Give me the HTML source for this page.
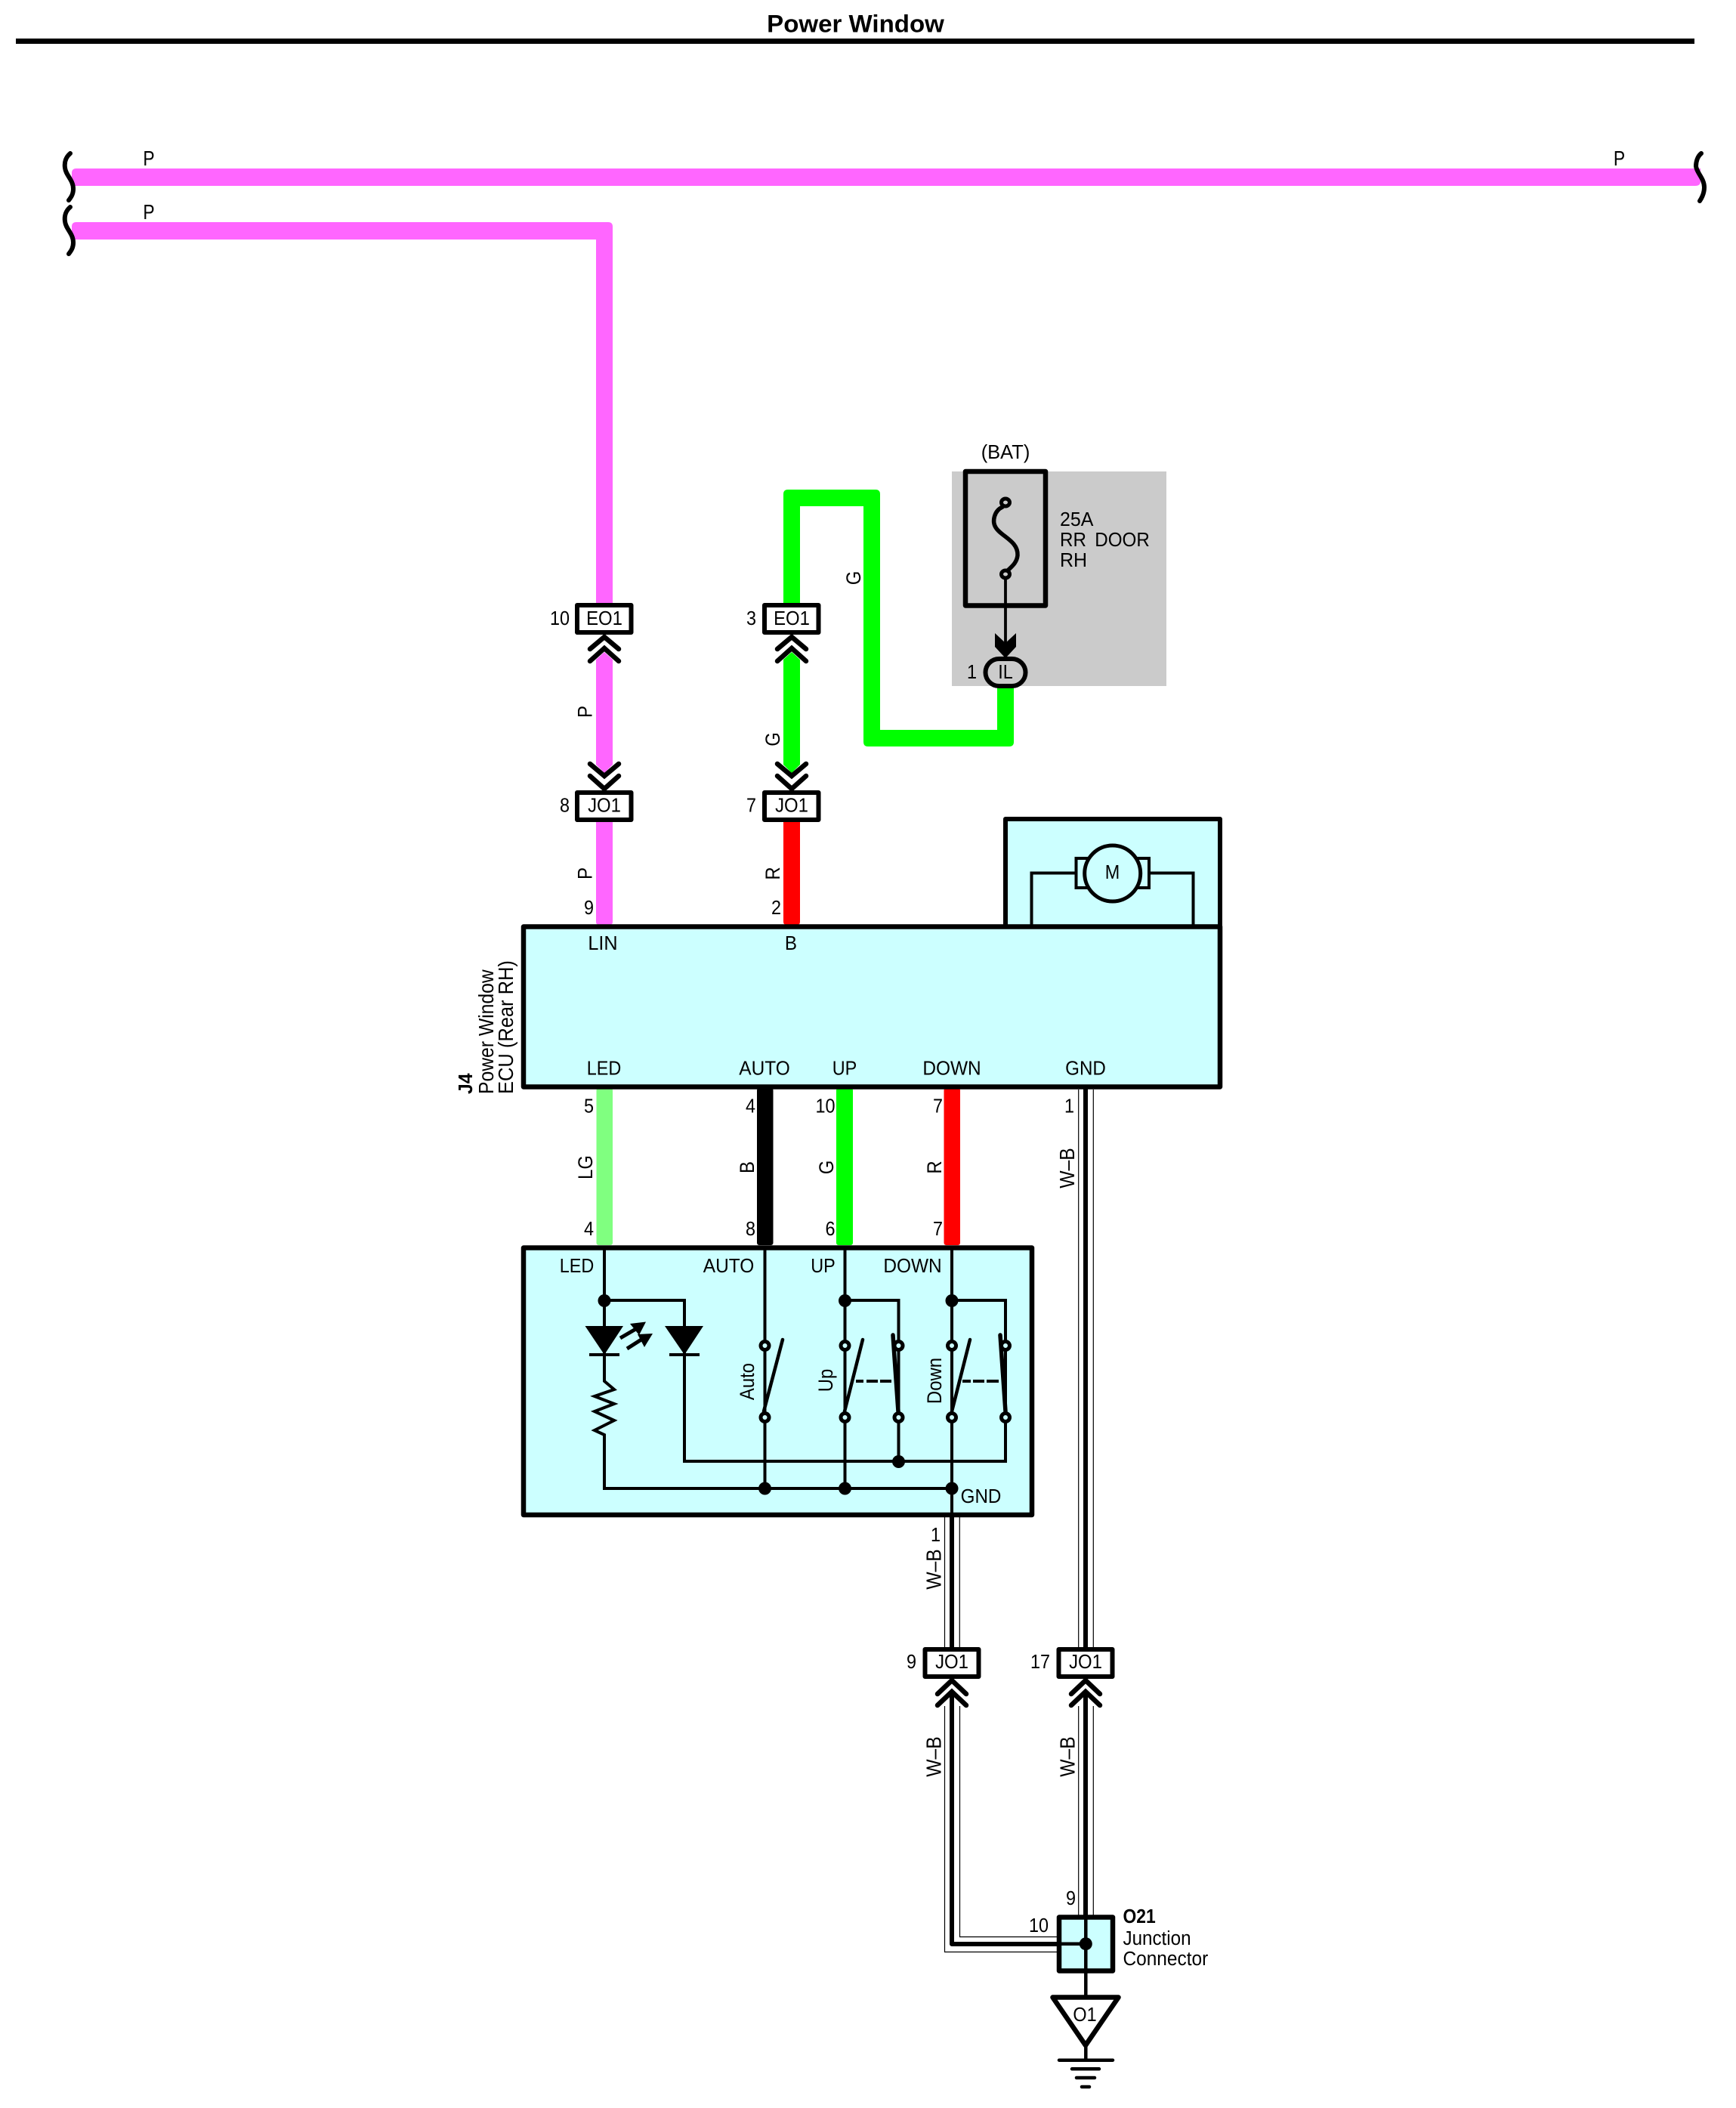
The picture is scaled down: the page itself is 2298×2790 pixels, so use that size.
<!DOCTYPE html>
<html>
<head>
<meta charset="utf-8">
<title>Power Window</title>
<style>
html,body{margin:0;padding:0;background:#fff}
svg{display:block}
text{font-family:"Liberation Sans",Arial,sans-serif;font-size:26px;fill:#000}
.m{text-anchor:middle}
.e{text-anchor:end}
.b{font-weight:bold}
</style>
</head>
<body>
<svg xmlns="http://www.w3.org/2000/svg" width="2298" height="2790" viewBox="0 0 2298 2790">
<rect width="2298" height="2790" fill="#fff"/>

<!-- Title -->
<text class="m b" style="font-size:32.5px" transform="translate(1132.5,42.5) scale(1.017 1)">Power Window</text>
<rect x="21" y="51" width="2222" height="7" fill="#000"/>

<!-- Pink wires -->
<path d="M95,229 Q95,223 101,223 H2251 V240 Q2251,246 2244,246 H95 Z" fill="#ff66ff"/>
<path d="M95,300 Q95,294 101,294 H805 Q811,294 811,300 V798 H789 V317 H95 Z" fill="#ff66ff"/>
<path d="M789,873 L800,863 L811,873 V1012 L800,1023 L789,1012 Z" fill="#ff66ff"/>
<path d="M789,1087 H811 V1220 Q811,1224 807,1224 H793 Q789,1224 789,1220 Z" fill="#ff66ff"/>

<!-- Green wires -->
<path d="M1037,798 V654 Q1037,648 1043,648 H1159 Q1165,648 1165,654 V966 H1320 V908 H1342 V982 Q1342,988 1336,988 H1149 Q1143,988 1143,982 V670 H1059 V798 Z" fill="#00ff00"/>
<path d="M1037,873 L1048,863 L1059,873 V1012 L1048,1023 L1037,1012 Z" fill="#00ff00"/>
<path d="M1037,1087 H1059 V1220 Q1059,1224 1055,1224 H1041 Q1037,1224 1037,1220 Z" fill="#ff0000"/>

<!-- Wires between ECU and switch -->
<rect x="789.5" y="1440" width="21.5" height="208" rx="3" fill="#80ff80"/>
<rect x="1002" y="1440" width="21.5" height="208" rx="3" fill="#000"/>
<rect x="1107" y="1440" width="22" height="208" rx="3" fill="#00ff00"/>
<rect x="1249.5" y="1440" width="21.5" height="208" rx="3" fill="#ff0000"/>

<!-- Fuse block -->
<rect x="1260" y="624" width="284" height="284" fill="#cbcbcb"/>
<rect x="1278" y="624" width="106" height="177.5" fill="none" stroke="#000" stroke-width="6.5" stroke-linejoin="round"/>
<path d="M1327,671 C1316,676 1313,690 1318,698 C1325,710 1348,716 1347,735 C1346,745 1339,750 1334,755" fill="none" stroke="#000" stroke-width="5.5" stroke-linecap="round"/>
<ellipse cx="1331" cy="665" rx="5.5" ry="5" fill="#cbcbcb" stroke="#000" stroke-width="5"/>
<ellipse cx="1331" cy="760" rx="5.5" ry="5" fill="#cbcbcb" stroke="#000" stroke-width="5"/>
<path d="M1331,765 V860" stroke="#000" stroke-width="3.8" fill="none"/>
<polygon points="1317,838 1331,851 1345,838 1345,856 1333,869 1329,869 1317,856" fill="#000"/>
<rect x="1304.5" y="872" width="53" height="36" rx="18" fill="#cbcbcb" stroke="#000" stroke-width="6"/>
<text class="m" transform="translate(1331,898) scale(.9 1)">IL</text>
<text class="e" transform="translate(1293,898) scale(.9 1)">1</text>
<text class="m" transform="translate(1331,607) scale(.98 1)">(BAT)</text>
<text transform="translate(1403,696) scale(.96 1)">25A</text>
<text transform="translate(1403,723) scale(.93 1)" style="word-spacing:5px">RR DOOR</text>
<text transform="translate(1403,750) scale(.96 1)">RH</text>

<!-- Motor box -->
<rect x="1331" y="1084" width="284" height="143" fill="#ccffff" stroke="#000" stroke-width="6" stroke-linejoin="round"/>
<path d="M1365.5,1226 V1155.5 H1424 M1579.5,1226 V1155.5 H1520" fill="none" stroke="#000" stroke-width="4"/>
<rect x="1424.5" y="1136" width="96.5" height="39" fill="#ccffff" stroke="#000" stroke-width="4"/>
<circle cx="1472.7" cy="1156" r="37" fill="#ccffff" stroke="#000" stroke-width="5"/>
<text class="m" transform="translate(1472.5,1163) scale(.9 1)">M</text>

<!-- ECU -->
<rect x="693" y="1226.5" width="922" height="212" fill="#ccffff" stroke="#000" stroke-width="6.5" stroke-linejoin="round"/>
<text class="m" transform="translate(798,1257) scale(.97 1)">LIN</text>
<text class="m" transform="translate(1047,1257) scale(.93 1)">B</text>
<text class="m" transform="translate(799.5,1422.5) scale(.9 1)">LED</text>
<text class="m" transform="translate(1012,1422.5) scale(.94 1)">AUTO</text>
<text class="m" transform="translate(1118,1422.5) scale(.9 1)">UP</text>
<text class="m" transform="translate(1260,1422.5) scale(.94 1)">DOWN</text>
<text class="m" transform="translate(1437,1422.5) scale(.93 1)">GND</text>
<text class="b" transform="translate(625,1448) rotate(-90) scale(.95 1)">J4</text>
<text transform="translate(653,1448) rotate(-90) scale(.95 1.08)">Power Window</text>
<text transform="translate(679,1448) rotate(-90) scale(.98 1.08)">ECU (Rear RH)</text>

<!-- Switch -->
<rect x="693" y="1651.5" width="673" height="353.5" fill="#ccffff" stroke="#000" stroke-width="6.5" stroke-linejoin="round"/>
<text class="m" transform="translate(763.5,1684) scale(.9 1)">LED</text>
<text class="m" transform="translate(964.5,1684) scale(.94 1)">AUTO</text>
<text class="m" transform="translate(1089.5,1684) scale(.9 1)">UP</text>
<text class="m" transform="translate(1208,1684) scale(.94 1)">DOWN</text>
<text class="m" transform="translate(1298.5,1989) scale(.93 1)">GND</text>

<g fill="none" stroke="#000" stroke-width="4">
  <path d="M800,1651 V1828 L813,1839 L787,1848 L813,1858 L787,1868 L813,1880 L787,1893 L800,1899 V1970 H1260"/>
  <path d="M800,1721 H906 V1934 H1331 V1721 H1260"/>
  <path d="M1118.5,1721 H1189.5 V1934"/>
  <path d="M1012.5,1651 V1970 M1118.5,1651 V1970 M1260,1651 V2008"/>
  <path d="M780,1793 H820 M886,1793 H926"/>
</g>
<!-- diodes -->
<polygon points="774.5,1755 825,1755 800,1793" fill="#000"/>
<polygon points="880,1755 931,1755 906,1793" fill="#000"/>
<!-- LED arrows -->
<path d="M821,1771 L845,1757 M830,1785 L852,1771" stroke="#000" stroke-width="5" fill="none"/>
<polygon points="834,1752 855,1749.5 846,1767" fill="#000"/>
<polygon points="844,1766 864,1765 853,1783" fill="#000"/>
<!-- nodes -->
<g fill="#000">
  <circle cx="800" cy="1721.5" r="8.5"/>
  <circle cx="1118.5" cy="1721.5" r="8.5"/>
  <circle cx="1260" cy="1721.5" r="8.5"/>
  <circle cx="1189.5" cy="1934.5" r="8.5"/>
  <circle cx="1012.5" cy="1970" r="8.5"/>
  <circle cx="1118.5" cy="1970" r="8.5"/>
  <circle cx="1260" cy="1970" r="8.5"/>
</g>
<!-- blades -->
<g fill="none" stroke="#000" stroke-linecap="round">
  <path d="M1011,1868 L1036,1773 M1118,1868 L1142,1773 M1260,1868 L1284,1773" stroke-width="4.5"/>
  <path d="M1182,1767 L1189,1868 M1324,1767 L1331,1868" stroke-width="5.5"/>
</g>
<path d="M1133,1828 H1143 M1147,1828 H1162 M1165,1828 H1180 M1274,1828 H1285 M1288,1828 H1303 M1306,1828 H1322" stroke="#000" stroke-width="4" fill="none"/>
<!-- pins -->
<g fill="#ccffff" stroke="#000" stroke-width="5">
  <circle cx="1012.5" cy="1781" r="5.5"/><circle cx="1012.5" cy="1876" r="5.5"/>
  <circle cx="1118.5" cy="1781" r="5.5"/><circle cx="1118.5" cy="1876" r="5.5"/>
  <circle cx="1189.5" cy="1781" r="5.5"/><circle cx="1189.5" cy="1876" r="5.5"/>
  <circle cx="1260" cy="1781" r="5.5"/><circle cx="1260" cy="1876" r="5.5"/>
  <circle cx="1331" cy="1781" r="5.5"/><circle cx="1331" cy="1876" r="5.5"/>
</g>
<text class="m" transform="translate(998,1828.5) rotate(-90) scale(.92 1.05)">Auto</text>
<text class="m" transform="translate(1102,1827) rotate(-90) scale(.92 1.05)">Up</text>
<text class="m" transform="translate(1246,1827.5) rotate(-90) scale(.92 1.05)">Down</text>

<!-- W-B wires -->
<g fill="none" stroke="#000" stroke-width="1.2">
  <path d="M1250.5,2008 V2180 M1270.3,2008 V2180"/>
  <path d="M1427.7,1442 V2180 M1447.3,1442 V2180"/>
  <path d="M1250.5,2258 V2583.5 H1399 M1270.5,2258 V2563.5 H1399"/>
  <path d="M1427.7,2258 V2535 M1447.3,2258 V2535"/>
</g>
<g fill="none" stroke="#000" stroke-width="6">
  <path d="M1260,2005 V2180 M1437,1441 V2180"/>
  <path d="M1260,2240 V2573 H1399" stroke-linejoin="round"/>
  <path d="M1437,2240 V2535"/>
</g>

<!-- Connector boxes -->
<g fill="#fff" stroke="#000" stroke-width="6" stroke-linejoin="round">
  <rect x="764" y="801" width="71.5" height="36"/>
  <rect x="1012" y="801" width="71.5" height="36"/>
  <rect x="764" y="1049" width="71.5" height="36"/>
  <rect x="1012" y="1049" width="71.5" height="36"/>
  <rect x="1224.5" y="2183" width="71" height="36"/>
  <rect x="1401.5" y="2183" width="71" height="36"/>
</g>
<text class="m" transform="translate(800,827) scale(.92 1)">EO1</text>
<text class="m" transform="translate(1048,827) scale(.92 1)">EO1</text>
<text class="m" transform="translate(800,1074.5) scale(.92 1)">JO1</text>
<text class="m" transform="translate(1048,1074.5) scale(.92 1)">JO1</text>
<text class="m" transform="translate(1260,2208) scale(.92 1)">JO1</text>
<text class="m" transform="translate(1437,2208) scale(.92 1)">JO1</text>

<!-- Chevrons -->
<g fill="none" stroke="#000" stroke-width="6.5" stroke-linecap="round">
  <path d="M781,859 L800,843 L819,859 M781,875 L800,858 L819,875"/>
  <path d="M1029,859 L1048,843 L1067,859 M1029,875 L1048,858 L1067,875"/>
  <path d="M781,1011 L800,1027 L819,1011 M781,1027 L800,1044 L819,1027"/>
  <path d="M1029,1011 L1048,1027 L1067,1011 M1029,1027 L1048,1044 L1067,1027"/>
  <path d="M1241,2242 L1260,2224 L1279,2242 M1241,2257 L1260,2239 L1279,2257"/>
  <path d="M1418,2242 L1437,2224 L1456,2242 M1418,2257 L1437,2239 L1456,2257"/>
</g>

<!-- Junction connector -->
<rect x="1402" y="2537.5" width="71" height="71" fill="#ccffff" stroke="#000" stroke-width="6.5" stroke-linejoin="round"/>
<path d="M1437.3,2537 V2643 M1399,2572.7 H1437" fill="none" stroke="#000" stroke-width="4.5"/>
<circle cx="1437.3" cy="2572.7" r="8.5" fill="#000"/>
<polygon points="1393.5,2643.5 1480.5,2643.5 1437,2707" fill="#fff" stroke="#000" stroke-width="6.5" stroke-linejoin="round"/>
<text class="m" transform="translate(1436,2675) scale(.9 1)">O1</text>
<path d="M1437.3,2708 V2726" stroke="#000" stroke-width="4.5" fill="none"/>
<g stroke="#000" stroke-width="4.5" stroke-linecap="round" fill="none">
  <path d="M1402,2726.7 H1473 M1419,2738.3 H1455 M1425,2750 H1449 M1432,2762 H1442"/>
</g>
<text class="b" transform="translate(1486.5,2545) scale(.88 1)">O21</text>
<text transform="translate(1486.5,2574) scale(.93 1)">Junction</text>
<text transform="translate(1486.5,2601) scale(.94 1)">Connector</text>

<!-- Break marks -->
<g fill="none" stroke="#000" stroke-width="6" stroke-linecap="round">
  <path d="M93,203 C87,208 85,215 86,222 C87,232 97,238 97,250 C97,256 95,260 91,265"/>
  <path d="M93,274 C87,279 85,286 86,293 C87,303 97,309 97,321 C97,327 95,331 91,336"/>
  <path d="M2252,203 C2247,207 2245,214 2245,220 C2246,229 2256,236 2256,248 C2256,254 2254,260 2250,266"/>
</g>

<!-- Wire letter labels (horizontal) -->
<text class="m" transform="translate(197,219) scale(.88 1.05)">P</text>
<text class="m" transform="translate(197,290) scale(.88 1.05)">P</text>
<text class="m" transform="translate(2143.5,219) scale(.88 1.05)">P</text>

<!-- Rotated wire labels -->
<text class="m" transform="translate(783.5,942) rotate(-90) scale(.92 1.05)">P</text>
<text class="m" transform="translate(783.5,1156) rotate(-90) scale(.92 1.05)">P</text>
<text class="m" transform="translate(1032,978.5) rotate(-90) scale(.92 1.05)">G</text>
<text class="m" transform="translate(1032,1156) rotate(-90) scale(.92 1.05)">R</text>
<text class="m" transform="translate(1139,765) rotate(-90) scale(.92 1.05)">G</text>
<text class="m" transform="translate(784,1545) rotate(-90) scale(.92 1.05)">LG</text>
<text class="m" transform="translate(998,1545) rotate(-90) scale(.92 1.05)">B</text>
<text class="m" transform="translate(1103,1545) rotate(-90) scale(.92 1.05)">G</text>
<text class="m" transform="translate(1246,1545) rotate(-90) scale(.92 1.05)">R</text>
<text class="m" transform="translate(1422,1546) rotate(-90) scale(.95 1.05)">W–B</text>
<text class="m" transform="translate(1245.5,2077) rotate(-90) scale(.95 1.05)">W–B</text>
<text class="m" transform="translate(1245.5,2325) rotate(-90) scale(.95 1.05)">W–B</text>
<text class="m" transform="translate(1422.5,2325) rotate(-90) scale(.95 1.05)">W–B</text>

<!-- Pin numbers -->
<text class="e" transform="translate(754,827) scale(.9 1)">10</text>
<text class="e" transform="translate(1001,827) scale(.9 1)">3</text>
<text class="e" transform="translate(754,1074.5) scale(.9 1)">8</text>
<text class="e" transform="translate(1001,1074.5) scale(.9 1)">7</text>
<text class="e" transform="translate(786,1210) scale(.9 1)">9</text>
<text class="e" transform="translate(1034,1210) scale(.9 1)">2</text>
<text class="e" transform="translate(786,1472.5) scale(.9 1)">5</text>
<text class="e" transform="translate(1000,1472.5) scale(.9 1)">4</text>
<text class="e" transform="translate(1105.5,1472.5) scale(.9 1)">10</text>
<text class="e" transform="translate(1248,1472.5) scale(.9 1)">7</text>
<text class="e" transform="translate(1422,1472.5) scale(.9 1)">1</text>
<text class="e" transform="translate(786,1635) scale(.9 1)">4</text>
<text class="e" transform="translate(1000,1635) scale(.9 1)">8</text>
<text class="e" transform="translate(1105.5,1635) scale(.9 1)">6</text>
<text class="e" transform="translate(1248,1635) scale(.9 1)">7</text>
<text class="e" transform="translate(1245,2040) scale(.9 1)">1</text>
<text class="e" transform="translate(1213,2208) scale(.9 1)">9</text>
<text class="e" transform="translate(1390,2208) scale(.9 1)">17</text>
<text class="e" transform="translate(1424,2521) scale(.9 1)">9</text>
<text class="e" transform="translate(1388,2557) scale(.9 1)">10</text>
</svg>
</body>
</html>
